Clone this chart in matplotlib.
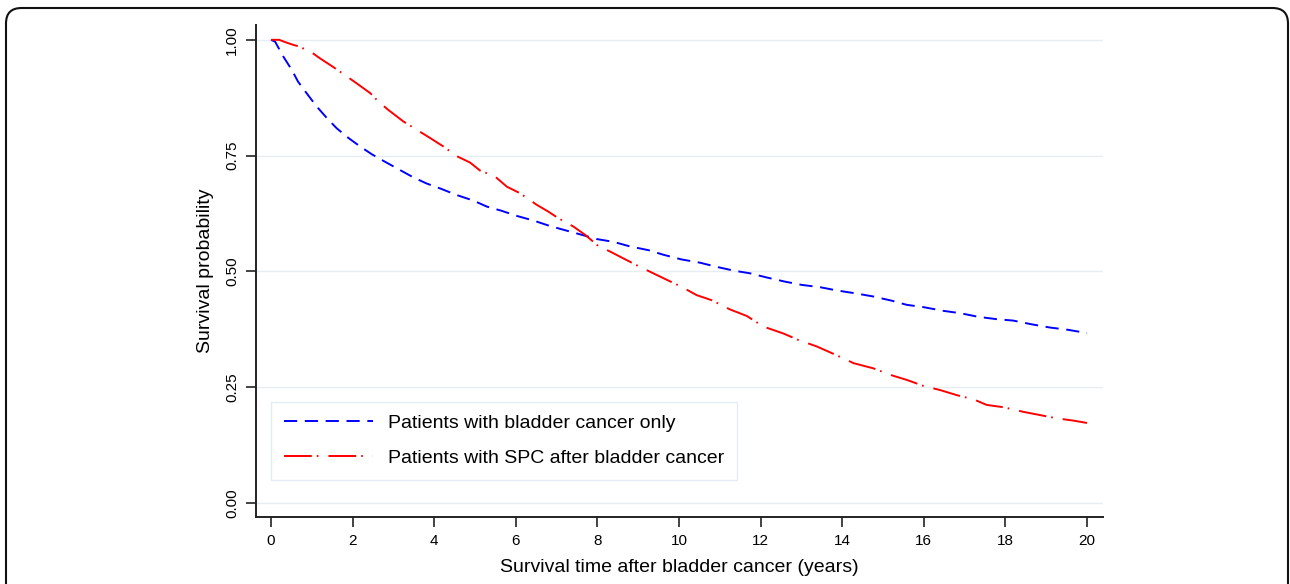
import matplotlib
matplotlib.use("Agg")
import matplotlib.pyplot as plt
from matplotlib.patches import FancyBboxPatch
import numpy as np

plt.rcParams['font.family'] = ['Liberation Sans', 'DejaVu Sans']
plt.rcParams['lines.scale_dashes'] = False

# Kaplan-Meier curves (years, survival probability)
t_only = [0, 0.1, 0.3, 0.51, 0.66, 0.87, 1.12, 1.37, 1.61, 1.9, 2.18, 2.47, 2.79,
          3.16, 3.49, 3.81, 4.18, 4.55, 4.96, 5.29, 5.65, 6.02, 6.43, 6.84, 7.25,
          7.62, 7.98, 8.39, 8.8, 9.25, 9.62, 10.06, 10.51, 10.92, 11.33, 11.74,
          12.15, 12.6, 13.01, 13.46, 13.87, 14.31, 14.76, 15.21, 15.58, 15.99,
          16.48, 16.89, 17.34, 17.79, 18.19, 18.64, 19.09, 19.54, 20.0]
s_only = [1.0, 0.996, 0.964, 0.935, 0.91, 0.885, 0.856, 0.831, 0.809, 0.788, 0.77,
          0.753, 0.737, 0.719, 0.703, 0.69, 0.678, 0.665, 0.653, 0.64, 0.631, 0.62,
          0.61, 0.598, 0.588, 0.579, 0.57, 0.564, 0.554, 0.546, 0.536, 0.526, 0.519,
          0.51, 0.502, 0.496, 0.487, 0.478, 0.471, 0.466, 0.459, 0.453, 0.446,
          0.437, 0.428, 0.423, 0.415, 0.41, 0.402, 0.397, 0.394, 0.386, 0.379,
          0.374, 0.367]

t_spc = [0, 0.2, 0.38, 0.55, 0.71, 1.04, 1.2, 1.53, 1.81, 2.1, 2.43, 2.63, 2.87,
         3.24, 3.57, 3.9, 4.22, 4.55, 4.88, 5.12, 5.49, 5.78, 6.1, 6.51, 6.8, 7.04,
         7.41, 7.7, 8.02, 8.31, 8.64, 9.04, 9.37, 9.7, 10.06, 10.43, 10.8, 11.25,
         11.66, 12.07, 12.56, 12.93, 13.38, 13.79, 14.28, 14.76, 15.21, 15.58,
         15.99, 16.4, 16.81, 17.22, 17.54, 17.95, 18.44, 18.85, 19.26, 19.67, 20.0]
s_spc = [1.0, 1.0, 0.994, 0.989, 0.985, 0.97, 0.96, 0.941, 0.924, 0.906, 0.885,
         0.867, 0.849, 0.824, 0.806, 0.788, 0.77, 0.749, 0.735, 0.718, 0.705, 0.683,
         0.669, 0.644, 0.629, 0.615, 0.597, 0.579, 0.555, 0.543, 0.528, 0.51, 0.496,
         0.482, 0.467, 0.449, 0.438, 0.418, 0.404, 0.381, 0.366, 0.352, 0.338,
         0.322, 0.302, 0.291, 0.276, 0.266, 0.253, 0.244, 0.233, 0.224, 0.212,
         0.207, 0.197, 0.19, 0.183, 0.178, 0.173]

labels = ["Patients with bladder cancer only", "Patients with SPC after bladder cancer"]
x_ticks = np.arange(0, 21, 2)
y_ticks = [0, 0.25, 0.5, 0.75, 1.0]

fig = plt.figure(figsize=(12.9, 5.84), dpi=100)
ax = fig.add_axes([0.1984, 0.1147, 0.6566, 0.8425])

ax.plot(t_only, s_only, color="#0000ff", lw=1.4, dashes=(9.5, 5.5), label=labels[0])
ax.plot(t_spc, s_spc, color="#ff0000", lw=1.4, dashes=(20, 3.6, 1.2, 7.2), label=labels[1])

ax.set_xlim(-0.37, 20.39)
ax.set_ylim(-0.03, 1.032)
ax.set_xticks(x_ticks)
ax.set_yticks(y_ticks)
ax.set_yticklabels(["%.2f" % v for v in y_ticks], rotation=90, va="center")
ax.tick_params(axis="both", labelsize=11, length=7, width=1.2, pad=5, color="#222222")
ax.grid(axis="y", color="#e6edf3", lw=1)
ax.set_axisbelow(True)
for s in ["top", "right"]:
    ax.spines[s].set_visible(False)
for s in ["left", "bottom"]:
    ax.spines[s].set_linewidth(1.4)
    ax.spines[s].set_color("#222222")

ax.set_xlabel("Survival time after bladder cancer (years)", fontsize=14, labelpad=8)
ax.set_ylabel("Survival probability", fontsize=14, labelpad=8)

leg = ax.legend(loc="upper left", bbox_to_anchor=(0.0177, 0.2343), borderaxespad=0,
                fontsize=14, handlelength=4.6, handletextpad=0.77, labelspacing=0.9,
                borderpad=0.65, fancybox=False, frameon=True)
leg.get_frame().set_edgecolor("#dfe7ef")
leg.get_frame().set_linewidth(1)

# rounded outer frame of the figure panel
frame = FancyBboxPatch((6 / 1290, -0.1), (1288 - 6) / 1290, 1.1 - 8 / 584,
                       boxstyle="round,pad=0,rounding_size=0.012",
                       transform=fig.transFigure, fill=False, lw=1.5, ec="#111111",
                       mutation_aspect=1290 / 584)
fig.patches.append(frame)

fig.savefig("out.png", dpi=100)
